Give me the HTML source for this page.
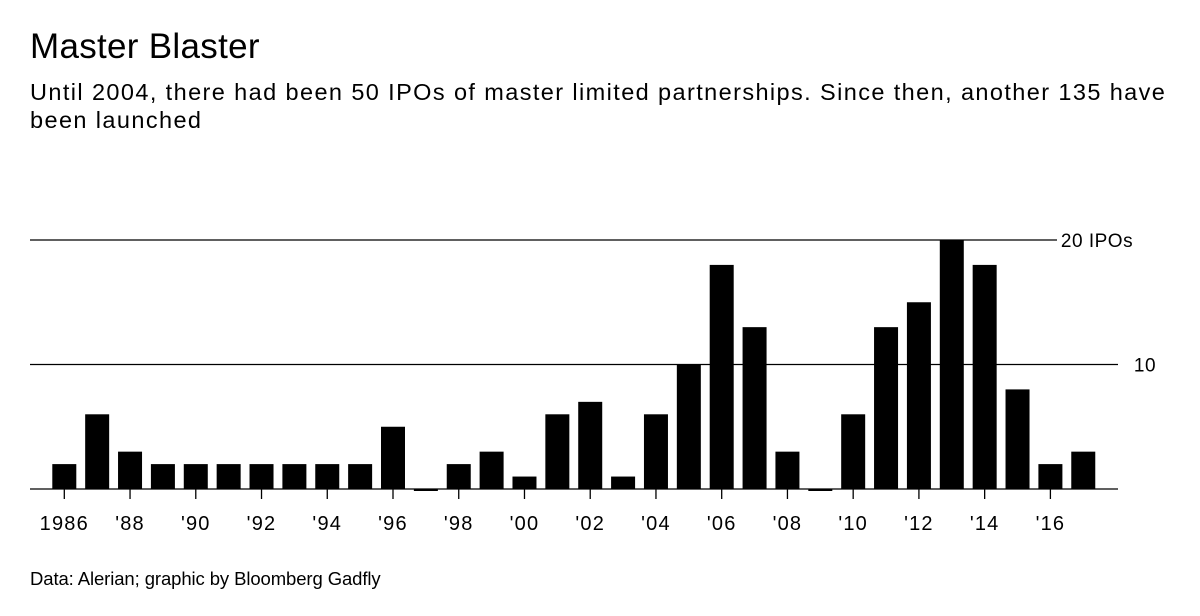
<!DOCTYPE html>
<html><head><meta charset="utf-8"><style>
body{margin:0;background:#fff;font-family:"Liberation Sans",sans-serif;color:#000}
#w{position:relative;width:1200px;height:616px;overflow:hidden}
.t{position:absolute;left:30px;white-space:nowrap}
</style></head><body><div id="w">
<div class="t" style="top:27px;font-size:35px;letter-spacing:0.3px">Master Blaster</div>
<div class="t" style="top:78px;font-size:23.5px;line-height:28px;letter-spacing:1.4px">Until 2004, there had been 50 IPOs of master limited partnerships. Since then, another 135 have<br>been launched</div>
<svg id="c" width="1200" height="616" style="position:absolute;left:0;top:0"></svg>
<div class="t" style="top:568px;font-size:18.5px;letter-spacing:-0.1px">Data: Alerian; graphic by Bloomberg Gadfly</div>
</div>
<script>
const years=[1986,1987,1988,1989,1990,1991,1992,1993,1994,1995,1996,1997,1998,1999,2000,2001,2002,2003,2004,2005,2006,2007,2008,2009,2010,2011,2012,2013,2014,2015,2016,2017];
const ipos=[2,6,3,2,2,2,2,2,2,2,5,0,2,3,1,6,7,1,6,10,18,13,3,0,6,13,15,20,18,8,2,3];
const gridVals=[10,20];
const gridLabels=["10","20 IPOs"];
const NS="http://www.w3.org/2000/svg",svg=document.getElementById('c');
const x=i=>64.3+i*32.87, y=v=>489-v*12.45, bw=24;
function el(t,a){const e=document.createElementNS(NS,t);for(const k in a)e.setAttribute(k,a[k]);svg.appendChild(e);return e;}
gridVals.forEach((v,i)=>{
 const l=el('line',{x1:30,x2:i==1?1057:1118,y1:y(v),y2:y(v),stroke:'#000','stroke-width':1.3});
 
 
 const t=el('text',{x:i==1?1097:1145,y:y(v)+7,'font-size':19,'text-anchor':'middle','font-family':'Liberation Sans','letter-spacing':0.5});
 t.textContent=gridLabels[i];
 
 
});
ipos.forEach((v,i)=>{
 const h=v===0?2:v*12.45;
 const r=el('rect',{x:x(i)-bw/2,y:v===0?489:y(v),width:bw,height:h,fill:'#000'});
 
 
});
const ax=el('line',{x1:30,x2:1118,y1:489,y2:489,stroke:'#000','stroke-width':1.3});


years.forEach((yr,i)=>{
 if(i%2)return;
 const tk=el('line',{x1:x(i),x2:x(i),y1:489,y2:499,stroke:'#000','stroke-width':1.3});
 
 
 const t=el('text',{x:x(i),y:530,'font-size':20,'text-anchor':'middle','font-family':'Liberation Sans','letter-spacing':1.2});
 t.textContent=i==0?String(yr):"'"+String(yr).slice(2);
 
 
});
</script></body></html>
